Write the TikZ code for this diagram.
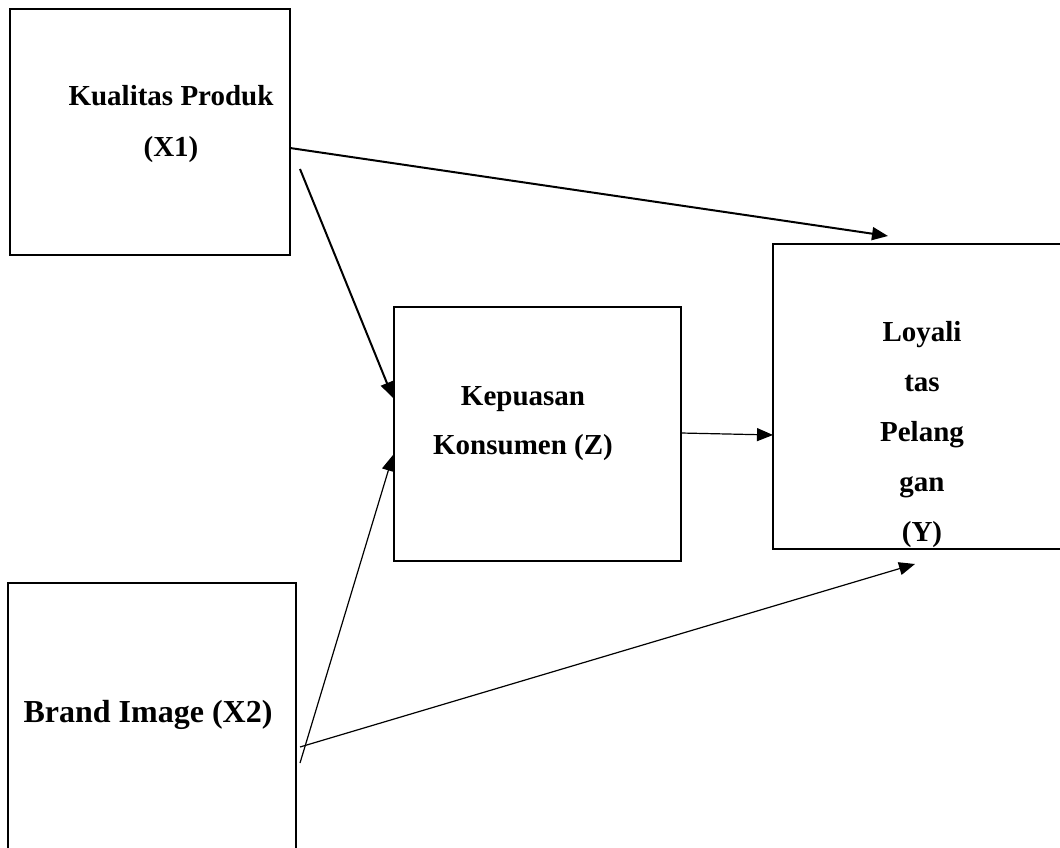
\documentclass[tikz,border=0pt]{standalone}
\usepackage{fontspec}
\setmainfont{Liberation Serif}
\usetikzlibrary{arrows.meta}
\begin{document}
\begin{tikzpicture}[x=1pt,y=-1pt,
  box/.style={draw=black,line width=2pt,inner sep=0pt,outer sep=0pt,fill=none},
  lbl/.style={inner sep=0pt,anchor=base,align=center,font=\bfseries\fontsize{29}{50}\selectfont},
  thickarrow/.style={line width=2pt,-{Triangle[length=16pt,width=13pt]}},
  thinarrow/.style={line width=1.2pt,-{Triangle[length=16pt,width=13pt]}}]
\useasboundingbox (0,0) rectangle (1060,848);
% boxes
\node[box,minimum width=280pt,minimum height=246pt] (x1) at (150,132) {};
\node[box,minimum width=287pt,minimum height=254pt] (z) at (537.5,434) {};
\node[box,minimum width=300pt,minimum height=305pt] (y) at (923,396.5) {};
\node[box,minimum width=288pt,minimum height=280pt] (x2) at (152,723) {};
% labels (anchor base = baseline of the last line)
\node[lbl,font=\bfseries\fontsize{29}{51}\selectfont] (tx1) at (171,157) {Kualitas Produk\\(X1)};
\node[lbl,font=\bfseries\fontsize{29}{49}\selectfont] (tz) at (523,454) {Kepuasan\\Konsumen (Z)};
\node[lbl] (ty) at (922,541) {Loyali\\tas\\Pelang\\gan\\(Y)};
\node[lbl,font=\bfseries\fontsize{32}{40}\selectfont] (tx2) at (148,722) {Brand Image (X2)};
% connector end points
\coordinate (s1) at (290,148);
\coordinate (e1) at (888,236);
\coordinate (s2) at (300,169);
\coordinate (e2) at (393,398);
\coordinate (s3) at (300,763);
\coordinate (e3) at (393,455);
\coordinate (s4) at (300,747);
\coordinate (e4) at (915,564);
\coordinate (s5) at (681,433);
\coordinate (e5) at (773,435);
% connectors
\draw[thickarrow] (s1) -- (e1);
\draw[thickarrow] (s2) -- (e2);
\draw[thinarrow] (s3) -- (e3);
\draw[thinarrow] (s4) -- (e4);
\draw[thinarrow] (s5) -- (e5);
\end{tikzpicture}
\end{document}
